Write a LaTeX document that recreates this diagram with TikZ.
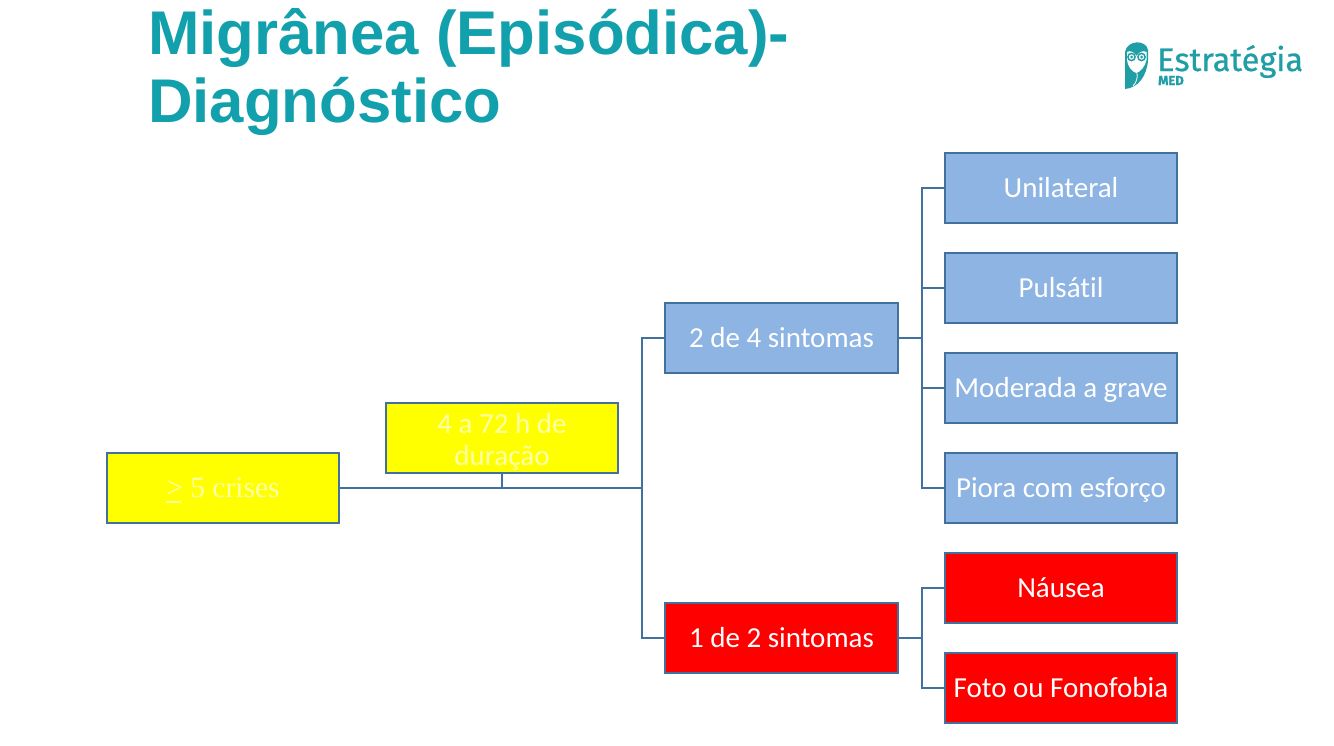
\documentclass[tikz,border=0pt]{standalone}
\usepackage{fontspec}
\setmainfont[Ligatures=NoCommon]{Carlito}
\newfontfamily\titlefont{Liberation Sans}
\newfontfamily\logofont[FakeBold=0.7]{Fira Sans}
\newfontfamily\timesfont{Liberation Serif}
\definecolor{teal1}{HTML}{12A1AC}
\definecolor{logoteal}{HTML}{1F9EA6}
\definecolor{blue1}{HTML}{8DB4E2}
\definecolor{edge}{HTML}{41719C}
\definecolor{yell}{HTML}{FFFF00}
\definecolor{yelltxt}{HTML}{FFFFA8}
\tikzset{
  x=1pt,y=-1pt,
  bx/.style={draw=edge,line width=1.3pt,minimum width=232pt,minimum height=70pt,inner sep=0pt,align=center,text=white,font=\fontsize{29}{32}\selectfont},
  onerow/.style={text height=24pt,text depth=5pt},
  bluebox/.style={bx,onerow,fill=blue1},
  redbox/.style={bx,onerow,fill=red},
  yellowbox/.style={bx,fill=yell,text=yelltxt},
  link/.style={draw=edge,line width=1.3pt},
  titletext/.style={anchor=base west,inner sep=0pt,text=teal1,font=\titlefont\bfseries\fontsize{61.7}{61.7}\selectfont}
}
\begin{document}
\begin{tikzpicture}
\useasboundingbox (0,0) rectangle (1334,745);
\fill[white] (0,0) rectangle (1334,745);
\node[titletext] (t1) at (148,54) {Migrânea (Episódica)-};
\node[titletext] (t2) at (148,122) {Diagnóstico};
% logo: owl
\fill[logoteal] (1125,52) .. controls (1127,40) and (1146,39) .. (1148,50) -- (1148,60) .. controls (1147,76) and (1138,88) .. (1125,89) -- cycle;
\fill[white] (1127,52) .. controls (1130,50) and (1134,52) .. (1136.5,56) .. controls (1139,52) and (1143,50) .. (1146.5,52) -- (1146.5,60) .. controls (1145,67) and (1140,72) .. (1136.5,73) .. controls (1132,72) and (1127.5,66) .. (1127,60) -- cycle;
\draw[logoteal,line width=1.5pt] (1131.5,57) circle[radius=3.6] (1141.5,57) circle[radius=3.6];
\fill[logoteal] (1131.5,57) circle[radius=1.5] (1141.5,57) circle[radius=1.5];
\draw[white,line width=0.8pt] (1137,73) .. controls (1138,78) and (1136,83) .. (1133,86);
\node[anchor=base west,inner sep=0pt,text depth=0pt,text=logoteal,font=\logofont\fontsize{32.5}{32.5}\selectfont] (logoa) at (1157,71) {Estratégia};
\node[anchor=base west,inner sep=0pt,text=logoteal,font=\logofont\bfseries\fontsize{13}{13}\selectfont] (logob) at (1158,85) {MED};
% boxes
\node[yellowbox,text height=24pt,text depth=5pt,font=\timesfont\fontsize{29.5}{32}\selectfont] (crises) at (223,488) {\makebox[0pt][l]{\rule[-5pt]{15pt}{1.2pt}}> 5 crises};
\node[yellowbox] (dur) at (502,438) {\rule{0pt}{27pt}4 a 72 h de\\duração};
\node[bluebox,minimum width=233pt] (dois) at (781.5,338) {2 de 4 sintomas};
\node[redbox,minimum width=233pt] (um) at (781.5,638) {1 de 2 sintomas};
\node[bluebox] (uni) at (1061,188) {Unilateral};
\node[bluebox] (pul) at (1061,288) {Pulsátil};
\node[bluebox] (mod) at (1061,388) {Moderada a grave};
\node[bluebox] (pio) at (1061,488) {Piora com esforço};
\node[redbox] (nau) at (1061,588) {Náusea};
\node[redbox] (fot) at (1061,688) {Foto ou Fonofobia};
% connectors
\coordinate (j1) at (642,488);
\coordinate (j2) at (922,338);
\coordinate (j3) at (922,638);
\draw[link] (crises.east) -- (j1);
\draw[link] (dur.south) -- (dur.south |- j1);
\draw[link] (j1) |- (dois.west);
\draw[link] (j1) |- (um.west);
\draw[link] (dois.east) -- (j2);
\draw[link] (j2) |- (uni.west);
\draw[link] (j2) |- (pul.west);
\draw[link] (j2) |- (mod.west);
\draw[link] (j2) |- (pio.west);
\draw[link] (um.east) -- (j3);
\draw[link] (j3) |- (nau.west);
\draw[link] (j3) |- (fot.west);
\end{tikzpicture}
\end{document}
